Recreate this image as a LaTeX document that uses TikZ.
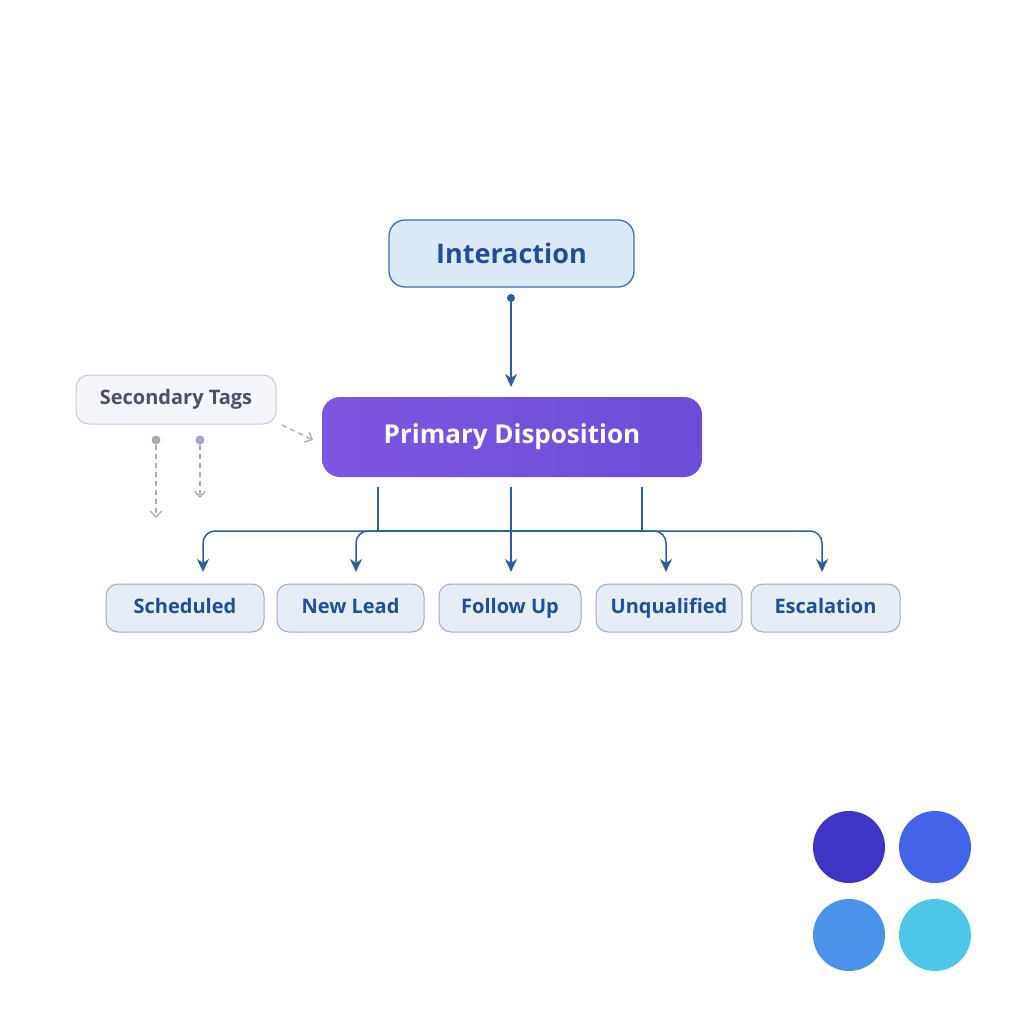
\documentclass[tikz,border=0pt]{standalone}
\usepackage{fontspec}
\setmainfont{Open Sans}
\usetikzlibrary{arrows.meta,calc}
\definecolor{ibox}{HTML}{DCE9F8}
\definecolor{iborder}{HTML}{3D6FB2}
\definecolor{itext}{HTML}{1F4E9A}
\definecolor{pleft}{HTML}{7D56E1}
\definecolor{pright}{HTML}{6B4DD7}
\definecolor{sbox}{HTML}{F3F5FA}
\definecolor{sborder}{HTML}{C6CBD6}
\definecolor{stext}{HTML}{4A5068}
\definecolor{obox}{HTML}{E6EDF7}
\definecolor{oborder}{HTML}{9AAFCB}
\definecolor{conn}{HTML}{2F5E9E}
\definecolor{dgray}{HTML}{A9ABB5}
\definecolor{dpurp}{HTML}{A7A3CC}
\definecolor{cA}{HTML}{3F34C6}
\definecolor{cB}{HTML}{4363E8}
\definecolor{cC}{HTML}{4A93E8}
\definecolor{cD}{HTML}{4EC6EA}
\tikzset{
  inter/.style={draw=iborder, line width=1.3pt, fill=ibox, rounded corners=16pt,
    minimum width=245pt, minimum height=67pt, text=itext,
    font=\fontsize{27}{30}\selectfont\bfseries},
  prim/.style={rounded corners=18pt, left color=pleft, right color=pright, draw=none,
    minimum width=380pt, minimum height=80pt, text=white,
    font=\fontsize{26}{30}\selectfont\bfseries},
  sec/.style={draw=sborder, line width=1pt, fill=sbox, rounded corners=13pt,
    minimum width=200pt, minimum height=49pt, text=stext,
    font=\fontsize{20}{24}\selectfont\bfseries},
  outc/.style={draw=oborder, line width=1pt, fill=obox, rounded corners=12pt,
    minimum height=48pt, text=itext, text height=15pt, text depth=4pt,
    font=\fontsize{20}{24}\selectfont\bfseries},
  conline/.style={draw=conn, line width=1.5pt},
  conarrow/.style={conline, -{Stealth[length=13pt,width=12pt,inset=4pt]}},
  dasharrow/.style={line width=1.3pt, dashed, dash pattern=on 5pt off 4pt,
    -{Straight Barb[length=6pt,width=11pt]}},
  dotc/.style={circle, inner sep=0pt, minimum size=9pt},
  swatch/.style={circle, inner sep=0pt, minimum size=72pt, draw=none},
}
\begin{document}
\begin{tikzpicture}[x=1pt,y=-1pt]
\useasboundingbox[fill=white] (0,0) rectangle (1024,1024);

% nodes
\node[inter] (inter) at (511.5,253.5) {Interaction};
\node[prim] (prim) at (512,437) {Primary Disposition};
\node[sec] (sec) at (176,399.5) {Secondary Tags};
\node[outc, minimum width=158pt] (o1) at (185,608) {Scheduled};
\node[outc, minimum width=147pt] (o2) at (350.5,608) {New Lead};
\node[outc, minimum width=142pt] (o3) at (510,608) {Follow Up};
\node[outc, minimum width=146pt] (o4) at (669,608) {Unqualified};
\node[outc, minimum width=149pt] (o5) at (825.5,608) {Escalation};

% interaction -> primary
\node[dotc, fill=conn, minimum size=8pt] (idot) at (511,298) {};
\coordinate (ptop) at (511,387);
\draw[conarrow] (idot.center) -- (ptop);

% secondary tags
\coordinate (sdA) at (282,425);
\coordinate (sdB) at (313,440);
\draw[dasharrow, draw=dgray] (sdA) -- (sdB);
\node[dotc, fill=dgray] (d1) at (156,440) {};
\node[dotc, fill=dpurp] (d2) at (200,440) {};
\coordinate (d1e) at (156,518);
\coordinate (d2e) at (200,498);
\draw[dasharrow, draw=dgray] (d1.south) -- (d1e);
\draw[dasharrow, draw=dgray] (d2.south) -- (d2e);

% primary -> outcomes
\coordinate (b1) at (378,487);
\coordinate (b2) at (511,487);
\coordinate (b3) at (642,487);
\coordinate (bus) at (0,531);
\coordinate (t1) at (203,572);
\coordinate (t2) at (356,572);
\coordinate (t3) at (511,572);
\coordinate (t4) at (666,572);
\coordinate (t5) at (822,572);
\draw[conline] (b1) -- (b1 |- bus);
\draw[conline] (b3) -- (b3 |- bus);
\draw[conline] (b1 |- bus) -- (b3 |- bus);
\draw[conarrow, rounded corners=12pt] (b1 |- bus) -| (t1);
\draw[conarrow, rounded corners=12pt] (b1 |- bus) -| (t2);
\draw[conarrow] (b2) -- (t3);
\draw[conarrow, rounded corners=12pt] (b3 |- bus) -| (t4);
\draw[conarrow, rounded corners=12pt] (b3 |- bus) -| (t5);

% swatches
\node[swatch, fill=cA] (s1) at (849,847) {};
\node[swatch, fill=cB] (s2) at (935,847) {};
\node[swatch, fill=cC] (s3) at (849,935) {};
\node[swatch, fill=cD] (s4) at (935,935) {};
\end{tikzpicture}
\end{document}
